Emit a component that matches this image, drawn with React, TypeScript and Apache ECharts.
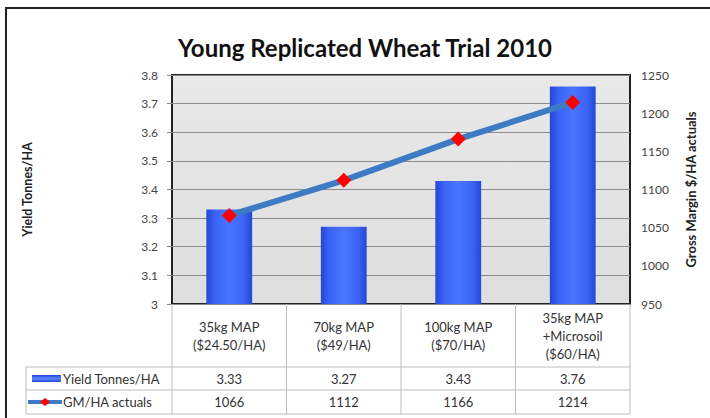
import React, { useEffect, useRef } from "react";
import * as echarts from "echarts";

const categories = [
  "35kg MAP\n($24.50/HA)",
  "70kg MAP\n($49/HA)",
  "100kg MAP\n($70/HA)",
  "35kg MAP\n+Microsoil\n($60/HA)",
];
const yieldValues = [3.33, 3.27, 3.43, 3.76];
const gmValues = [1066, 1112, 1166, 1214];
const seriesNames = ["Yield Tonnes/HA", "GM/HA actuals"];
const titleText = "Young Replicated Wheat Trial 2010";
const leftAxisName = "Yield Tonnes/HA";
const rightAxisName = "Gross Margin $/HA actuals";

const FONT = "Lato, 'Liberation Sans', sans-serif";

export default function App() {
  const ref = useRef<HTMLDivElement>(null);

  useEffect(() => {
    document.body.style.margin = "0";
    const chart = echarts.init(ref.current!, null, { renderer: "svg" });

    const gridLeft = 172;
    const gridRight = 80;
    const gridTop = 75;
    const gridBottom = 114;
    const W = 710;
    const H = 418;
    const plotRight = W - gridRight;
    const plotBottom = H - gridBottom;

    const barGradient = new echarts.graphic.LinearGradient(0, 0, 1, 0, [
      { offset: 0, color: "#2446d6" },
      { offset: 0.18, color: "#3a62f4" },
      { offset: 0.5, color: "#4a76ff" },
      { offset: 0.82, color: "#3a62f4" },
      { offset: 1, color: "#2446d6" },
    ]);

    chart.setOption({
      animation: false,
      backgroundColor: "#ffffff",
      textStyle: { fontFamily: FONT },
      title: {
        text: titleText,
        left: 360,
        top: 30,
        textAlign: "center",
        textStyle: { fontFamily: FONT, fontSize: 24, fontWeight: "bold", color: "#111" },
      },
      grid: {
        left: gridLeft,
        right: gridRight,
        top: gridTop,
        bottom: gridBottom,
        show: true,
        backgroundColor: new echarts.graphic.LinearGradient(0, 0, 0, 1, [
          { offset: 0, color: "#e9e9e9" },
          { offset: 1, color: "#dedede" },
        ]),
        borderColor: "#222",
        borderWidth: 2,
      },
      xAxis: {
        type: "category",
        data: categories,
        axisLine: { show: false },
        axisTick: { show: false },
        axisLabel: {
          margin: 32,
          verticalAlign: "middle",
          fontFamily: FONT,
          fontSize: 13,
          lineHeight: 18,
          color: "#333",
        },
      },
      yAxis: [
        {
          type: "value",
          min: 3,
          max: 3.8,
          interval: 0.1,
          name: leftAxisName,
          nameLocation: "middle",
          nameGap: 138,
          nameTextStyle: { fontFamily: FONT, fontSize: 12.5, fontWeight: "bold", color: "#222" },
          axisLine: { show: false },
          axisTick: { show: true, length: 5, lineStyle: { color: "#888" } },
          axisLabel: { margin: 14, fontFamily: FONT, fontSize: 12, color: "#444" },
          splitLine: { show: true, lineStyle: { color: "#8a8a8a", width: 1 } },
        },
        {
          type: "value",
          min: 950,
          max: 1250,
          interval: 50,
          position: "right",
          name: rightAxisName,
          nameLocation: "middle",
          nameGap: 54,
          nameRotate: 90,
          nameTextStyle: { fontFamily: FONT, fontSize: 13, fontWeight: "bold", color: "#222" },
          axisLine: { show: false },
          axisTick: { show: false },
          axisLabel: {
            margin: 11,
            fontFamily: FONT,
            fontSize: 12,
            color: "#444",
            formatter: (v: number) => String(v),
          },
          splitLine: { show: false },
        },
      ],
      series: [
        {
          name: seriesNames[0],
          type: "bar",
          data: yieldValues,
          barWidth: "40%",
          itemStyle: { color: barGradient },
          z: 2,
        },
        {
          name: seriesNames[1],
          type: "line",
          yAxisIndex: 1,
          data: gmValues,
          lineStyle: { color: "#3d7cc4", width: 6 },
          itemStyle: { color: "#ff0000" },
          symbol: "diamond",
          symbolSize: 15,
          z: 5,
        },
      ],
    });

    // Build data table beneath the axis from the library's own x scale
    const centers = categories.map((_, i) => chart.convertToPixel({ xAxisIndex: 0 }, i) as number);
    const colW = (plotRight - gridLeft) / categories.length;
    const bounds = [gridLeft, ...centers.map((c) => c + colW / 2)];
    const tableLeft = 26;
    const row1Top = 367;
    const row2Top = 390;
    const tableBottom = 414;
    const lineColor = "#bdbdbd";
    const g: any[] = [];

    g.push({
      type: "rect",
      shape: { x: 6, y: 8, width: 730, height: 430 },
      style: { fill: "none", stroke: "#222", lineWidth: 2 },
      silent: true,
      z: 0,
    });

    bounds.forEach((x) => {
      g.push({
        type: "line",
        shape: { x1: x, y1: plotBottom, x2: x, y2: tableBottom },
        style: { stroke: lineColor, lineWidth: 1 },
        z: 1,
      });
    });
    g.push({
      type: "line",
      shape: { x1: tableLeft, y1: row1Top, x2: tableLeft, y2: tableBottom },
      style: { stroke: lineColor, lineWidth: 1 },
    });
    [row1Top, row2Top, tableBottom].forEach((y) => {
      g.push({
        type: "line",
        shape: { x1: tableLeft, y1: y, x2: plotRight, y2: y },
        style: { stroke: lineColor, lineWidth: 1 },
      });
    });

    const r1 = (row1Top + row2Top) / 2;
    const r2 = (row2Top + tableBottom) / 2;

    g.push({
      type: "rect",
      shape: { x: 32, y: r1 - 3.5, width: 29, height: 7 },
      style: {
        fill: new echarts.graphic.LinearGradient(0, 0, 0, 1, [
          { offset: 0, color: "#2446d6" },
          { offset: 0.5, color: "#5a86ff" },
          { offset: 1, color: "#2446d6" },
        ]),
      },
    });
    g.push({
      type: "line",
      shape: { x1: 28, y1: r2, x2: 62, y2: r2 },
      style: { stroke: "#3d7cc4", lineWidth: 4 },
    });
    g.push({
      type: "polygon",
      shape: { points: [[45, r2 - 4], [50, r2], [45, r2 + 4], [40, r2]] },
      style: { fill: "#ff0000" },
    });
    g.push({
      type: "text",
      x: 63,
      y: r1,
      style: { text: seriesNames[0], fontFamily: FONT, fontSize: 13, fill: "#333", verticalAlign: "middle", align: "left" },
    });
    g.push({
      type: "text",
      x: 63,
      y: r2,
      style: { text: seriesNames[1], fontFamily: FONT, fontSize: 13, fill: "#333", verticalAlign: "middle", align: "left" },
    });

    centers.forEach((cx, i) => {
      g.push({
        type: "text",
        x: cx,
        y: r1,
        style: { text: yieldValues[i].toFixed(2), fontFamily: FONT, fontSize: 13, fill: "#333", align: "center", verticalAlign: "middle" },
      });
      g.push({
        type: "text",
        x: cx,
        y: r2,
        style: { text: String(gmValues[i]), fontFamily: FONT, fontSize: 13, fill: "#333", align: "center", verticalAlign: "middle" },
      });
    });

    chart.setOption({ graphic: g });

    return () => chart.dispose();
  }, []);

  return <div ref={ref} style={{ width: 710, height: 418 }} />;
}
